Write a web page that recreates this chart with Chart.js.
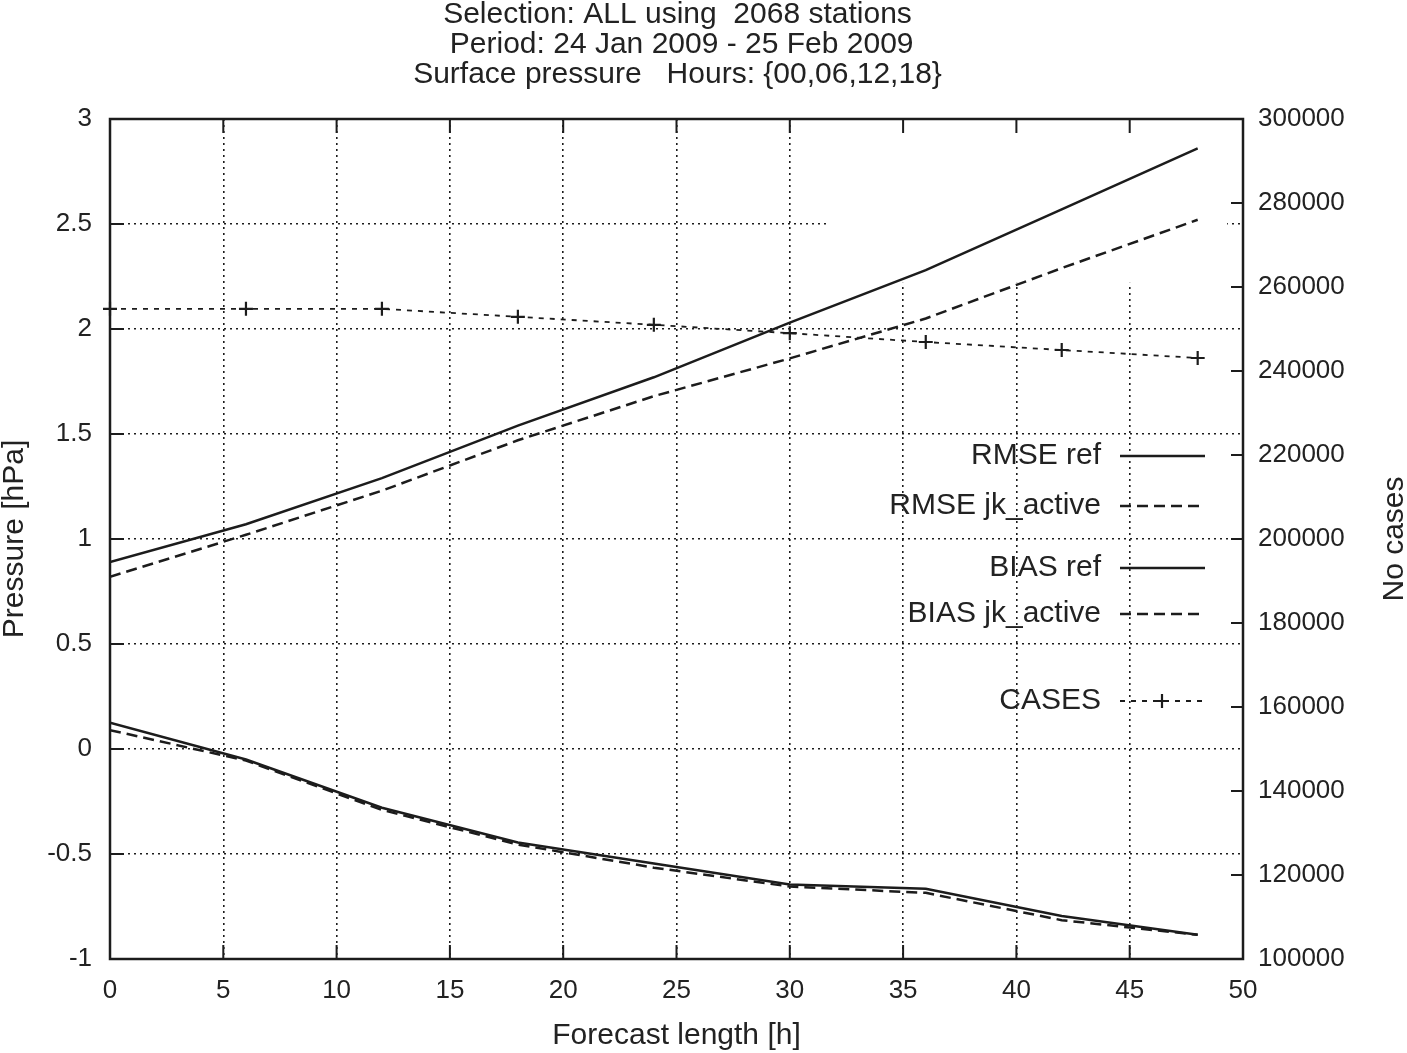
<!DOCTYPE html>
<html>
<head>
<meta charset="utf-8">
<script src="https://cdn.jsdelivr.net/npm/chart.js@4.4.0/dist/chart.umd.min.js"></script>
<style>
  html, body { margin: 0; padding: 0; background: #fff; }
  #wrap { width: 1407px; height: 1053px; }
</style>
</head>
<body>
<div id="wrap"><canvas id="chart"></canvas></div>
<script>
// Forecast verification, surface pressure
const hours = [0, 6, 12, 18, 24, 30, 36, 42, 48];
const rmseRef = [0.89, 1.07, 1.29, 1.54, 1.77, 2.03, 2.28, 2.57, 2.86];
const rmseJk = [0.82, 1.02, 1.23, 1.47, 1.68, 1.86, 2.05, 2.29, 2.52];
const biasRef = [0.125, -0.05, -0.28, -0.445, -0.545, -0.645, -0.665, -0.795, -0.885];
const biasJk = [0.09, -0.055, -0.29, -0.455, -0.565, -0.655, -0.685, -0.815, -0.885];
const cases = [254800, 254800, 254800, 252900, 251000, 249000, 246900, 245000, 243100];

const xTicks = [0, 5, 10, 15, 20, 25, 30, 35, 40, 45, 50];
const yTicks = [-1, -0.5, 0, 0.5, 1, 1.5, 2, 2.5, 3];
const y2Ticks = [100000, 120000, 140000, 160000, 180000, 200000, 220000, 240000, 260000, 280000, 300000];

const titleLines = [
  'Selection: ALL using  2068 stations',
  ' Period: 24 Jan 2009 - 25 Feb 2009',
  'Surface pressure   Hours: {00,06,12,18}'
];

const INK = '#1c1c1c';
const FONT = '"Liberation Sans", Arial, Helvetica, sans-serif';

Chart.defaults.font.family = FONT;
Chart.defaults.font.size = 26;
Chart.defaults.color = '#222';

function pts(values) {
  return hours.map((h, i) => ({ x: h, y: values[i] }));
}

function fixedTicks(list) {
  return function (scale) {
    scale.ticks = list.map(v => ({ value: v }));
  };
}

// gnuplot look: partial grid gap, inward ticks, frame, key and titles
const gnuplotPlugin = {
  id: 'gnuplot',
  beforeDatasetsDraw(chart) {
    const { ctx, chartArea: a, scales: { x, y } } = chart;
    ctx.save();
    ctx.fillStyle = '#fff';
    const x0 = x.getPixelForValue(31.6);
    const x1 = x.getPixelForValue(49.3);
    const y1 = y.getPixelForValue(2.22);
    ctx.fillRect(x0, a.top, x1 - x0, y1 - a.top);
    ctx.restore();
  },
  afterDatasetsDraw(chart) {
    const { ctx, chartArea: a, scales: { x, y, y2 } } = chart;
    ctx.save();
    ctx.strokeStyle = INK;
    ctx.lineWidth = 2;
    ctx.setLineDash([]);
    ctx.beginPath();
    x.ticks.forEach(t => {
      const px = x.getPixelForValue(t.value);
      ctx.moveTo(px, a.bottom); ctx.lineTo(px, a.bottom - 14);
      ctx.moveTo(px, a.top); ctx.lineTo(px, a.top + 14);
    });
    y.ticks.forEach(t => {
      const py = y.getPixelForValue(t.value);
      ctx.moveTo(a.left, py); ctx.lineTo(a.left + 14, py);
    });
    y2.ticks.forEach(t => {
      const py = y2.getPixelForValue(t.value);
      ctx.moveTo(a.right, py); ctx.lineTo(a.right - 12, py);
    });
    ctx.stroke();

    ctx.lineWidth = 2.5;
    ctx.strokeRect(a.left, a.top, a.right - a.left, a.bottom - a.top);

    // key
    const rows = [337, 387, 449, 495, 582];
    ctx.font = '30px ' + FONT;
    ctx.fillStyle = '#222';
    ctx.textAlign = 'right';
    ctx.textBaseline = 'middle';
    chart.data.datasets.forEach((ds, i) => {
      const yy = a.top + rows[i];
      ctx.fillText(ds.label, a.right - 142, yy);
      ctx.strokeStyle = INK;
      ctx.lineWidth = ds.borderWidth;
      ctx.setLineDash(ds.borderDash || []);
      ctx.beginPath();
      ctx.moveTo(a.right - 123, yy);
      ctx.lineTo(a.right - 38, yy);
      ctx.stroke();
      if (ds.pointRadius) {
        ctx.setLineDash([]);
        ctx.lineWidth = ds.pointBorderWidth;
        const cx = a.right - 81;
        ctx.beginPath();
        ctx.moveTo(cx - ds.pointRadius, yy); ctx.lineTo(cx + ds.pointRadius, yy);
        ctx.moveTo(cx, yy - ds.pointRadius); ctx.lineTo(cx, yy + ds.pointRadius);
        ctx.stroke();
      }
    });

    // titles
    ctx.textAlign = 'center';
    const cx = (a.left + a.right) / 2 + 1;
    titleLines.forEach((t, i) => ctx.fillText(t, cx, 15 + i * 30));

    ctx.translate(1395, (a.top + a.bottom) / 2);
    ctx.rotate(-Math.PI / 2);
    ctx.fillText('No cases', 0, 0);
    ctx.restore();
  }
};

const gridStyle = {
  color: INK,
  lineWidth: 1.6,
  drawTicks: false
};

new Chart(document.getElementById('chart'), {
  type: 'line',
  data: {
    datasets: [
      { label: 'RMSE ref', data: pts(rmseRef), yAxisID: 'y', borderColor: INK, borderWidth: 2.5, pointRadius: 0 },
      { label: 'RMSE jk_active', data: pts(rmseJk), yAxisID: 'y', borderColor: INK, borderWidth: 2.5, borderDash: [11, 6], pointRadius: 0 },
      { label: 'BIAS ref', data: pts(biasRef), yAxisID: 'y', borderColor: INK, borderWidth: 2.5, pointRadius: 0 },
      { label: 'BIAS jk_active', data: pts(biasJk), yAxisID: 'y', borderColor: INK, borderWidth: 2.5, borderDash: [11, 6], pointRadius: 0 },
      { label: 'CASES', data: pts(cases), yAxisID: 'y2', borderColor: INK, borderWidth: 1.8, borderDash: [5, 6],
        pointStyle: 'cross', pointRadius: 7, pointBorderWidth: 2.2, pointBorderColor: INK, clip: false }
    ]
  },
  options: {
    responsive: true,
    maintainAspectRatio: false,
    animation: false,
    layout: { padding: { top: 119, left: 0, right: 0, bottom: 0 } },
    plugins: {
      legend: { display: false },
      tooltip: { enabled: false },
      title: { display: false }
    },
    elements: { line: { tension: 0 } },
    scales: {
      x: {
        type: 'linear',
        min: 0, max: 50,
        afterBuildTicks: fixedTicks(xTicks),
        afterFit(scale) { scale.height = 94; },
        grid: Object.assign({ borderDash: [2, 4] }, gridStyle),
        border: { display: false, dash: [2, 4] },
        ticks: { padding: 16, callback: v => String(v), maxRotation: 0 },
        title: { display: true, text: 'Forecast length [h]', font: { size: 30, lineHeight: 1 }, padding: { top: 0, bottom: 2 } }
      },
      y: {
        type: 'linear',
        position: 'left',
        min: -1, max: 3,
        afterBuildTicks: fixedTicks(yTicks),
        afterFit(scale) { scale.width = 110; },
        grid: gridStyle,
        border: { display: false, dash: [2, 4] },
        ticks: { padding: 18, callback: v => String(v) },
        title: { display: true, text: 'Pressure [hPa]', font: { size: 30, lineHeight: 1 }, padding: { top: 0, bottom: 0 } }
      },
      y2: {
        type: 'linear',
        position: 'right',
        min: 100000, max: 300000,
        afterBuildTicks: fixedTicks(y2Ticks),
        afterFit(scale) { scale.width = 164; },
        grid: { display: false, drawTicks: false },
        border: { display: false },
        ticks: { padding: 15, callback: v => String(v) }
      }
    }
  },
  plugins: [gnuplotPlugin]
});
</script>
</body>
</html>
